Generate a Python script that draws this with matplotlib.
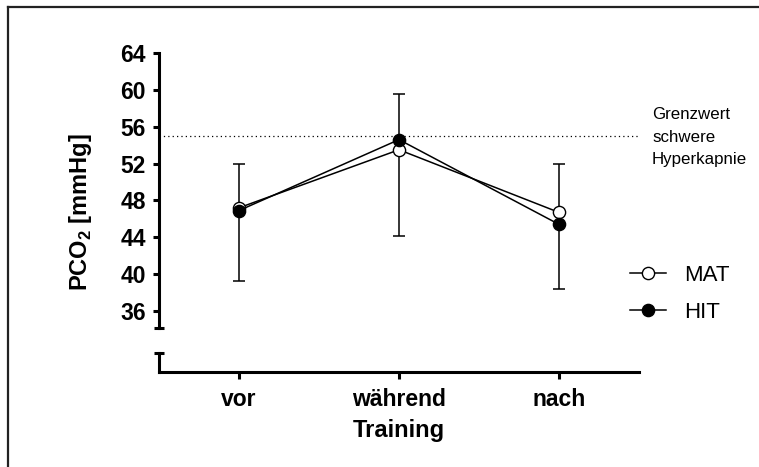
import matplotlib
matplotlib.use("Agg")
import matplotlib.pyplot as plt
from matplotlib.lines import Line2D

plt.rcParams["font.family"] = ["Liberation Sans", "DejaVu Sans"]
plt.rcParams["mathtext.fontset"] = "custom"
plt.rcParams["mathtext.rm"] = "Liberation Sans"
plt.rcParams["mathtext.bf"] = "Liberation Sans:bold"

# data
phases = ["vor", "während", "nach"]
mat_mean = [47.2, 53.5, 46.7]
mat_sd = [4.8, 6.1, 5.3]       # drawn upward
hit_mean = [46.9, 54.6, 45.4]
hit_sd = [7.6, 10.5, 7.0]      # drawn downward
threshold = 55.0
yticks = [36, 40, 44, 48, 52, 56, 60, 64]

x = list(range(len(phases)))

fig = plt.figure(figsize=(7.59, 4.67), dpi=100)
ax = fig.add_axes([159 / 759, 1 - 372 / 467, 480 / 759, 319 / 467])

# error bars: MAT above, HIT below
ax.errorbar(x, mat_mean, yerr=[[0] * 3, mat_sd], fmt="none", ecolor="black",
            elinewidth=1.1, capsize=4.6, capthick=1.1, zorder=2)
ax.errorbar(x, hit_mean, yerr=[hit_sd, [0] * 3], fmt="none", ecolor="black",
            elinewidth=1.1, capsize=4.6, capthick=1.1, zorder=2)

ax.plot(x, mat_mean, color="black", lw=1.1, marker="o", ms=8.8,
        mfc="white", mec="black", mew=1.0, zorder=3, label="MAT")
ax.plot(x, hit_mean, color="black", lw=1.1, marker="o", ms=8.8,
        mfc="black", mec="black", mew=1.0, zorder=4, label="HIT")

ax.axhline(threshold, color="black", lw=0.9, ls=(0, (1, 2.5)), zorder=1)
ax.text(652 / 759, 1 - 137 / 467, "Grenzwert\nschwere\nHyperkapnie",
        transform=fig.transFigure, fontsize=12.2, va="center", ha="left",
        linespacing=1.6)

ax.set_xlim(-0.5, 2.5)
ax.set_ylim(29.38, 64)
ax.set_xticks(x)
ax.set_xticklabels(phases)
ax.set_yticks(yticks)

for s in ("top", "right"):
    ax.spines[s].set_visible(False)
for s in ("left", "bottom"):
    ax.spines[s].set_linewidth(2.2)
ax.spines["left"].set_bounds(34.2, 64)

# broken axis: caps and the short lower stub
yt = ax.get_yaxis_transform()
cw = 5 / 480
ax.plot([-cw, cw], [34.2, 34.2], color="black", lw=2.2, transform=yt,
        clip_on=False, solid_capstyle="butt")
ax.plot([-cw, cw], [31.45, 31.45], color="black", lw=2.2, transform=yt,
        clip_on=False, solid_capstyle="butt")
ax.plot([0, 0], [31.45, 29.38], color="black", lw=2.2, transform=yt,
        clip_on=False, solid_capstyle="projecting")

ax.tick_params(axis="both", width=2.2, labelsize=16.5, color="black")
ax.tick_params(axis="y", length=4, pad=5.5)
ax.tick_params(axis="x", length=5, pad=6.5)
for lab in ax.get_xticklabels() + ax.get_yticklabels():
    lab.set_fontweight("bold")

ax.set_xlabel("Training", fontsize=17, fontweight="bold", labelpad=6)
ax.set_ylabel(r"PCO$_{\mathbf{2}}$ [mmHg]", fontsize=17, fontweight="bold")
ax.yaxis.set_label_coords(-0.135, 0.5)

ax.legend(loc="center left", bbox_to_anchor=(630 / 759, 1 - 294 / 467),
          bbox_transform=fig.transFigure, frameon=False, fontsize=16,
          handlelength=1.6, handletextpad=0.85, labelspacing=0.7,
          borderpad=0, borderaxespad=0)

# frame lines (top and left only, as in the reference)
fig.add_artist(Line2D([8 / 759, 1], [1 - 7 / 467, 1 - 7 / 467], color="#222222",
                      lw=1.6, transform=fig.transFigure))
fig.add_artist(Line2D([8 / 759, 8 / 759], [0, 1 - 7 / 467], color="#222222",
                      lw=1.6, transform=fig.transFigure))

fig.savefig("out.png", dpi=100)
